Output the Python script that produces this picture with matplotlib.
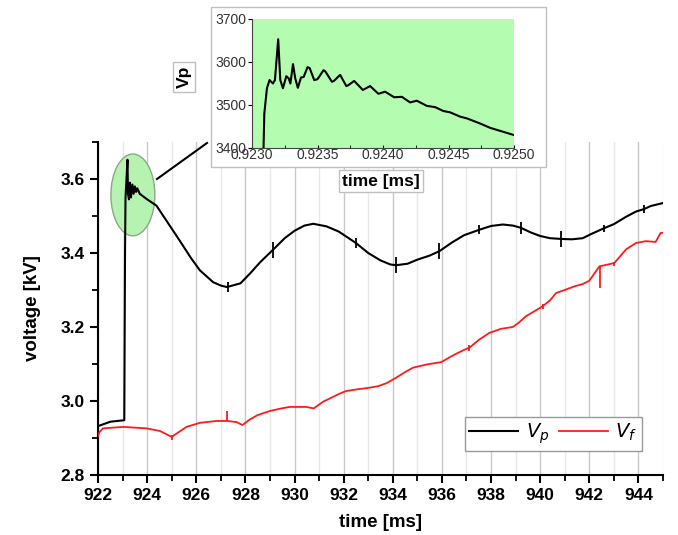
import numpy as np
import matplotlib
matplotlib.use('Agg')
import matplotlib.pyplot as plt
from matplotlib.patches import Ellipse, Rectangle
from matplotlib.lines import Line2D
from matplotlib.ticker import MultipleLocator, FormatStrFormatter

plt.rcParams['font.family'] = ['Liberation Sans', 'DejaVu Sans']

# main trace, probe voltage Vp [kV]
vp_t = [922.0, 922.5, 923.07, 923.1, 923.12, 923.16, 923.2, 923.22, 923.26, 923.3,
        923.34, 923.4, 923.45, 923.5, 923.55, 923.6, 923.7, 923.8, 924.0, 924.38,
        924.79, 925.33, 925.8, 926.15, 926.69, 927.0, 927.25, 927.8, 928.18, 928.6,
        929.16, 929.6, 930.0, 930.4, 930.76, 931.3, 931.8, 932.5, 933.0, 933.5,
        933.9, 934.14, 934.6, 935.0, 935.5, 935.9, 936.4, 936.9, 937.53, 938.0,
        938.48, 938.9, 939.22, 939.6, 940.0, 940.4, 940.85, 941.3, 941.73, 942.1,
        942.6, 943.0, 943.5, 943.9, 944.24, 944.5, 945.0]
vp_v = [2.932, 2.944, 2.948, 3.40, 3.55, 3.60, 3.652, 3.56, 3.545, 3.59,
        3.55, 3.585, 3.56, 3.58, 3.565, 3.575, 3.56, 3.555, 3.545, 3.528,
        3.487, 3.433, 3.385, 3.353, 3.321, 3.312, 3.308, 3.318, 3.344, 3.375,
        3.411, 3.44, 3.46, 3.474, 3.479, 3.472, 3.458, 3.427, 3.40, 3.38,
        3.369, 3.367, 3.371, 3.382, 3.393, 3.405, 3.428, 3.448, 3.463, 3.473,
        3.477, 3.474, 3.468, 3.456, 3.446, 3.44, 3.438, 3.437, 3.44, 3.452,
        3.467, 3.478, 3.498, 3.512, 3.519, 3.527, 3.535]
vp_spike_t = [927.3, 929.13, 932.5, 934.14, 935.9, 937.53, 939.22, 940.85, 942.6, 944.24]
vp_spike_h = [0.014, 0.022, 0.014, 0.022, 0.022, 0.012, 0.016, 0.022, 0.01, 0.012]

# floating voltage Vf [kV]
vf_t = [922.0, 922.05, 922.2, 923.03, 923.98, 924.52, 925.0, 925.2, 925.6, 926.15,
        926.82, 927.27, 927.64, 927.88, 928.18, 928.5, 929.0, 929.4, 929.8, 930.48,
        930.78, 931.16, 931.5, 931.84, 932.1, 932.5, 933.06, 933.4, 933.74, 934.14,
        934.5, 934.82, 935.4, 935.97, 936.5, 936.9, 937.12, 937.5, 937.93, 938.4,
        938.88, 939.1, 939.42, 939.7, 940.1, 940.4, 940.65, 941.0, 941.4, 941.73,
        942.0, 942.41, 942.7, 943.02, 943.5, 943.9, 944.3, 944.7, 944.9, 945.0]
vf_v = [2.905, 2.915, 2.926, 2.930, 2.926, 2.919, 2.903, 2.912, 2.930, 2.941,
        2.946, 2.946, 2.943, 2.935, 2.950, 2.962, 2.973, 2.979, 2.984, 2.984,
        2.980, 2.998, 3.009, 3.020, 3.027, 3.031, 3.036, 3.040, 3.048, 3.063,
        3.078, 3.090, 3.099, 3.105, 3.125, 3.138, 3.144, 3.165, 3.184, 3.195,
        3.200, 3.210, 3.229, 3.240, 3.256, 3.272, 3.292, 3.300, 3.310, 3.316,
        3.325, 3.364, 3.368, 3.373, 3.410, 3.427, 3.432, 3.430, 3.454, 3.455]
vf_spike_t = [925.0, 927.27, 937.12, 940.1, 942.43, 943.02]
vf_spike_up = [0.004, 0.026, 0.008, 0.006, 0.0, 0.004]
vf_spike_dn = [0.008, 0.0, 0.008, 0.008, 0.06, 0.008]

# zoomed inset, Vp [V] vs time
in_t = [0.923088, 0.923094, 0.923114, 0.923134, 0.92316, 0.923175, 0.92320, 0.923216,
        0.923236, 0.923262, 0.92328, 0.923293, 0.923313, 0.92333, 0.92335, 0.923374,
        0.923394, 0.923424, 0.92344, 0.923475, 0.9235, 0.923546, 0.92356, 0.92361,
        0.923625, 0.923673, 0.92372, 0.923735, 0.92378, 0.923846, 0.923902, 0.923965,
        0.924016, 0.924085, 0.924144, 0.924207, 0.924258, 0.924334, 0.924398, 0.924461,
        0.924512, 0.924588, 0.924639, 0.924741, 0.924817, 0.925]
in_v = [3400, 3480, 3539, 3558, 3550, 3558, 3653, 3558,
        3539, 3567, 3562, 3550, 3595, 3562, 3540, 3564,
        3565, 3588, 3586, 3558, 3560, 3581, 3578, 3554,
        3556, 3570, 3544, 3546, 3556, 3535, 3544, 3526,
        3531, 3518, 3519, 3506, 3510, 3498, 3495, 3486,
        3483, 3473, 3469, 3457, 3447, 3430]

W, H = 678, 535
fig = plt.figure(figsize=(W / 100, H / 100), dpi=100)
ax = fig.add_axes([98 / W, 1 - 475 / H, (663 - 98) / W, (475 - 142) / H])

ax.plot(vp_t, vp_v, c='k', lw=1.5, label='$V_p$', zorder=3)
ax.plot(vf_t, vf_v, c='#ff1a1a', lw=1.3, label='$V_f$', zorder=3)
vp_mid = np.interp(vp_spike_t, vp_t, vp_v)
ax.vlines(vp_spike_t, vp_mid - np.array(vp_spike_h), vp_mid + np.array(vp_spike_h),
          color='k', lw=1.3, zorder=3)
vf_mid = np.interp(vf_spike_t, vf_t, vf_v)
ax.vlines(vf_spike_t, vf_mid - np.array(vf_spike_dn), vf_mid + np.array(vf_spike_up),
          color='#ff1a1a', lw=1.3, zorder=3)
ax.add_patch(Ellipse((923.42, 3.557), 1.79, 0.221, facecolor='#b6f2b0',
                     edgecolor='#8aa88a', lw=1, zorder=2))

ax.set_xlim(922, 945)
ax.set_ylim(2.8, 3.7)
ax.xaxis.set_major_locator(MultipleLocator(2))
ax.xaxis.set_minor_locator(MultipleLocator(1))
ax.yaxis.set_major_locator(MultipleLocator(0.2))
ax.yaxis.set_minor_locator(MultipleLocator(0.1))
ax.yaxis.set_major_formatter(FormatStrFormatter('%.1f'))
ax.grid(which='major', axis='x', color='#c8c8c8', lw=1)
ax.grid(which='minor', axis='x', color='#e8e8e8', lw=1)
ax.set_axisbelow(True)
for s in ['top', 'right']:
    ax.spines[s].set_visible(False)
for s in ['left', 'bottom']:
    ax.spines[s].set_linewidth(1.5)
ax.tick_params(which='major', direction='out', length=6, width=1.5, labelsize=12.5)
ax.tick_params(which='minor', direction='out', length=4, width=1.3)
for lab in ax.get_xticklabels() + ax.get_yticklabels():
    lab.set_fontweight('bold')
ax.set_xlabel('time [ms]', fontsize=13.5, fontweight='bold', labelpad=8)
ax.set_ylabel('voltage [kV]', fontsize=13.5, fontweight='bold', labelpad=14)

leg = ax.legend(loc='lower right', bbox_to_anchor=((642 - 98) / (663 - 98), (475 - 451) / (475 - 142)),
                borderaxespad=0, ncol=2, fontsize=14, fancybox=False, framealpha=1,
                edgecolor='#999999', handlelength=2.5, columnspacing=0.5, handletextpad=0.4,
                borderpad=0.25)
leg.get_frame().set_linewidth(1)

# white panel behind the inset
fig.add_artist(Rectangle((211 / W, 1 - 167 / H), (546 - 211) / W, (167 - 7) / H,
                         transform=fig.transFigure, facecolor='white',
                         edgecolor='#c0c0c0', lw=1, zorder=1))
fig.add_artist(Line2D([157 / W, 207 / W], [1 - 179 / H, 1 - 143 / H],
                      transform=fig.transFigure, color='k', lw=1.5, zorder=1))

ins = fig.add_axes([252 / W, 1 - 148 / H, (514 - 252) / W, (148 - 19) / H], zorder=2)
ins.set_facecolor('#b3fcb0')
ins.plot(in_t, in_v, c='k', lw=1.5)
ins.set_xlim(0.9230, 0.9250)
ins.set_ylim(3400, 3700)
ins.xaxis.set_major_locator(MultipleLocator(0.0005))
ins.xaxis.set_minor_locator(MultipleLocator(0.00025))
ins.yaxis.set_major_locator(MultipleLocator(100))
ins.xaxis.set_major_formatter(FormatStrFormatter('%.4f'))
for s in ['top', 'right']:
    ins.spines[s].set_visible(False)
ins.spines['left'].set_color('#444444')
ins.spines['bottom'].set_color('#444444')
ins.tick_params(axis='y', which='major', direction='out', length=3, labelsize=10,
                labelcolor='#333333', pad=1)
ins.tick_params(axis='x', which='both', direction='in', length=2.5, labelsize=10,
                labelcolor='#333333', pad=0)

fig.text(381 / W, 1 - 181 / H, 'time [ms]', fontsize=12.5, fontweight='bold',
         ha='center', va='center', zorder=3,
         bbox=dict(boxstyle='square,pad=0.2', facecolor='white', edgecolor='#c0c0c0', lw=1))
fig.text(184 / W, 1 - 77 / H, 'Vp', fontsize=12.5, fontweight='bold', rotation=90,
         ha='center', va='center', zorder=3,
         bbox=dict(boxstyle='square,pad=0.2', facecolor='white', edgecolor='#c0c0c0', lw=1))

fig.savefig('out.png', dpi=100)
